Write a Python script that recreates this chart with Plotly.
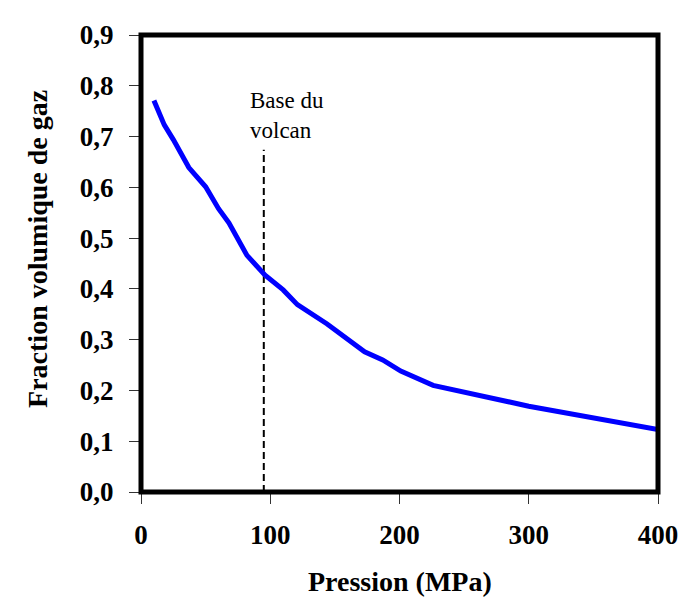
import plotly.graph_objects as go

# Data
pression = [10, 18, 25, 30, 37, 50, 60, 68, 75, 82, 96, 110, 121, 144, 173, 187, 201, 226, 300, 400]
fraction = [0.771, 0.723, 0.694, 0.671, 0.639, 0.601, 0.558, 0.530, 0.498, 0.466,
             0.427, 0.398, 0.369, 0.331, 0.276, 0.260, 0.238, 0.210, 0.169, 0.123]

base_volcan_x = [95, 95]
base_volcan_y = [0, 0.674]

x_tickvals = [0, 100, 200, 300, 400]
x_ticktext = ["0", "100", "200", "300", "400"]
y_tickvals = [0, 0.1, 0.2, 0.3, 0.4, 0.5, 0.6, 0.7, 0.8, 0.9]
y_ticktext = ["0,0", "0,1", "0,2", "0,3", "0,4", "0,5", "0,6", "0,7", "0,8", "0,9"]

serif = "Liberation Serif, Times New Roman, serif"

fig = go.Figure()
fig.add_trace(go.Scatter(
    x=base_volcan_x, y=base_volcan_y, mode="lines",
    line=dict(color="black", width=2, dash="7px,4px"),
    showlegend=False, hoverinfo="skip"))
fig.add_trace(go.Scatter(
    x=pression, y=fraction, mode="lines",
    line=dict(color="#0000FF", width=5),
    showlegend=False))

# Annotation near the dashed line
fig.add_annotation(
    x=83, y=0.683, xref="x", yref="y", xanchor="left", yanchor="bottom",
    text="Base du<br>volcan", showarrow=False, align="left",
    font=dict(family=serif, size=23, color="black"))

# Axis titles
fig.add_annotation(
    x=0.5, y=-0.1949, xref="paper", yref="paper", xanchor="center", yanchor="middle",
    text="Pression (MPa)", showarrow=False,
    font=dict(family=serif, size=28, color="black", weight="bold"))
fig.add_annotation(
    x=-0.2, y=0.531, xref="paper", yref="paper", xanchor="center", yanchor="middle",
    text="Fraction volumique de gaz", showarrow=False, textangle=-90,
    font=dict(family=serif, size=28, color="black", weight="bold"))

# Thick frame centred on the plot edges
fig.add_shape(type="rect", xref="paper", yref="paper", x0=0, x1=1, y0=0, y1=1,
              line=dict(color="black", width=5), layer="above")

axis_common = dict(
    showgrid=False, zeroline=False, showline=False,
    ticks="outside", ticklen=11, tickwidth=1, tickcolor="#333",
    tickfont=dict(family=serif, size=27, color="black", weight="bold"),
)

# The page body adds an 8px offset, so the figure is 8px smaller on each axis
fig.update_layout(
    width=682, height=592,
    margin=dict(l=133, r=24, t=17, b=108),
    paper_bgcolor="white", plot_bgcolor="white",
    xaxis=dict(range=[0, 400], tickvals=x_tickvals, ticktext=x_ticktext,
               ticklabelstandoff=8, **axis_common),
    yaxis=dict(range=[0, 0.9], tickvals=y_tickvals, ticktext=y_ticktext,
               ticklabelstandoff=10, **axis_common),
)

fig.write_html("out.html")
